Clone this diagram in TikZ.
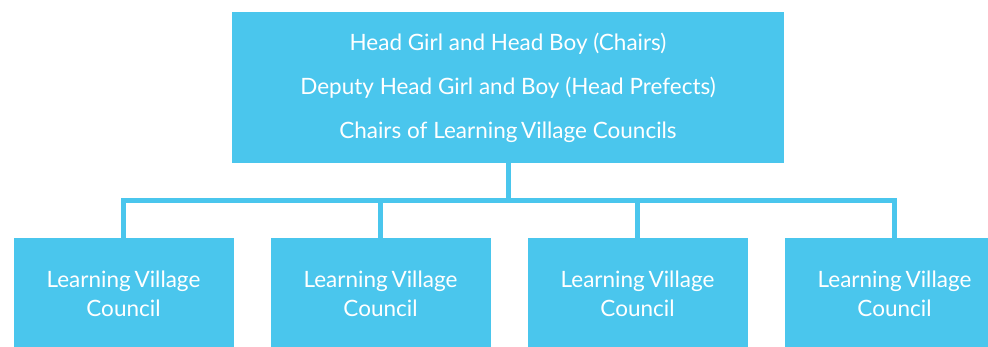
\documentclass[tikz,border=0pt]{standalone}
\usepackage{fontspec}
\setmainfont{Lato}
\definecolor{lvblue}{HTML}{4AC6ED}

\begin{document}
\begin{tikzpicture}
  [x=1pt,y=1pt,every node/.style={fill=lvblue,text=white,inner sep=0pt,align=center}]
 \tikzset{link/.style = {draw=lvblue,line width=5pt},
   council/.style = {minimum width=220pt,minimum height=112pt,font=\fontsize{22.5}{29}\selectfont}}
  \useasboundingbox (0,0) rectangle (988,-347);
  \node[minimum width=552pt,minimum height=151pt,font=\fontsize{22.5}{44}\selectfont] (head) at (508,-87.5)
    {Head Girl and Head Boy (Chairs)\\Deputy Head Girl and Boy (Head Prefects)\\Chairs of Learning\,Village Councils};
  \node[council] (lvc1) at (123.5,-294) {Learning\,Village\\Council};
  \node[council] (lvc2) at (380.5,-294) {Learning\,Village\\Council};
  \node[council] (lvc3) at (637.5,-294) {Learning\,Village\\Council};
  \node[council] (lvc4) at (894.5,-294) {Learning\,Village\\Council};

  \foreach \n in {1,...,4}
    \draw[link] (head.south) -- ++(0,-37) -| (lvc\n.north);

\end{tikzpicture}
\end{document}
